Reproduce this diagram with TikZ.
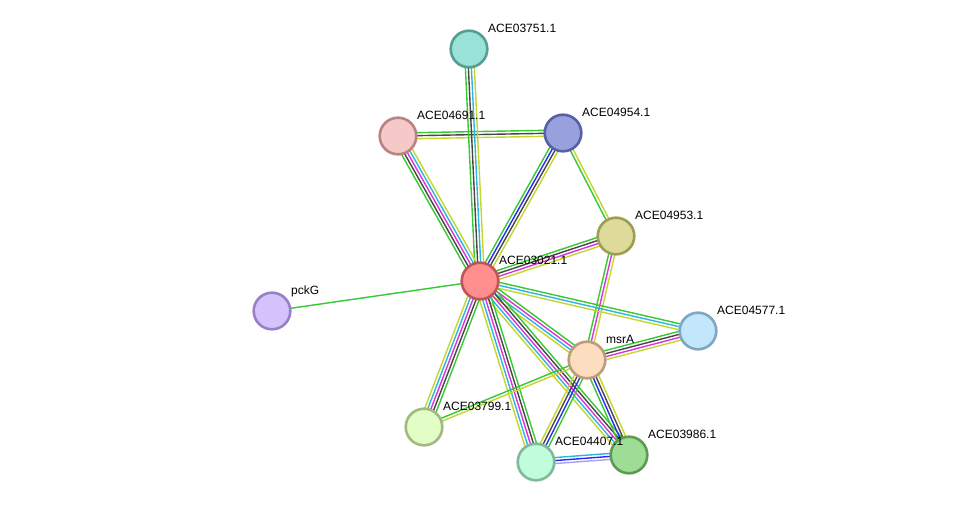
\documentclass[tikz,border=0pt]{standalone}
\usepackage{fontspec}
\setmainfont{Liberation Sans}
\usetikzlibrary{calc}
\pgfdeclarelayer{back}
\pgfdeclarelayer{bg}
\pgfsetlayers{back,bg,main}
\definecolor{egreen}{RGB}{55,200,50}
\definecolor{eblack}{RGB}{70,70,70}
\definecolor{emag}{RGB}{220,50,220}
\definecolor{ecyan}{RGB}{45,180,225}
\definecolor{eyel}{RGB}{195,215,45}
\definecolor{eblue}{RGB}{40,40,250}
\definecolor{elav}{RGB}{165,160,250}
\definecolor{f03751}{RGB}{152,226,215}\definecolor{d03751}{RGB}{86,158,148}
\definecolor{f04691}{RGB}{246,200,200}\definecolor{d04691}{RGB}{184,131,131}
\definecolor{f04954}{RGB}{152,161,222}\definecolor{d04954}{RGB}{85,97,163}
\definecolor{f04953}{RGB}{222,219,154}\definecolor{d04953}{RGB}{158,157,85}
\definecolor{f03021}{RGB}{255,143,143}\definecolor{d03021}{RGB}{192,85,85}
\definecolor{fpckG}{RGB}{212,196,251}\definecolor{dpckG}{RGB}{152,128,200}
\definecolor{f04577}{RGB}{194,230,251}\definecolor{d04577}{RGB}{127,168,192}
\definecolor{fmsrA}{RGB}{252,221,191}\definecolor{dmsrA}{RGB}{188,156,124}
\definecolor{f03799}{RGB}{227,253,198}\definecolor{d03799}{RGB}{162,186,128}
\definecolor{f04407}{RGB}{193,252,220}\definecolor{d04407}{RGB}{127,186,154}
\definecolor{f03986}{RGB}{157,221,149}\definecolor{d03986}{RGB}{91,155,83}
\tikzset{
  prot/.style={circle, minimum size=36.6pt, inner sep=0pt, line width=2.6pt},
  lbl/.style={anchor=base west, inner sep=0pt, font=\fontsize{12}{14}\selectfont},
}
\newcommand\sedge[3]{%
  \foreach \cc [count=\ii] in {#3} {\xdef\nnum{\ii}}%
  \foreach \cc [count=\ii] in {#3} {%
    \pgfmathsetmacro\off{((\nnum+1)/2-\ii)*3}%
    \draw[line width=1.4pt, color=\cc] ($(#1)!\off pt!90:(#2)$) -- ($(#2)!\off pt!-90:(#1)$);
  }%
}
\newcommand\prot[4]{% name, x, y, colour key
  \node[prot, fill=f#4, draw=d#4] (#1) at (#2,#3) {};
}
\begin{document}
\begin{tikzpicture}[x=1pt,y=-1pt]
\begin{pgfonlayer}{back}
\fill[white] (0,0) rectangle (976,508);
\end{pgfonlayer}
\useasboundingbox (0,0) rectangle (976,508);
\prot{a03751}{469}{49}{03751}
\prot{a04691}{398}{136}{04691}
\prot{a04954}{563}{133}{04954}
\prot{a04953}{616}{236}{04953}
\prot{a03021}{480}{281}{03021}
\prot{pckG}{272}{311}{pckG}
\prot{a04577}{698}{331}{04577}
\prot{msrA}{587}{360}{msrA}
\prot{a03799}{424}{427}{03799}
\prot{a04407}{536}{462}{04407}
\prot{a03986}{629}{455}{03986}
\begin{pgfonlayer}{bg}
\sedge{a04691}{a04954}{egreen,eblack,eyel}
\sedge{a03021}{a03751}{egreen,eblack,ecyan,eyel}
\sedge{a03021}{a04691}{egreen,eblack,emag,ecyan,eyel}
\sedge{a03021}{a04954}{egreen,eblue,eblack,eyel}
\sedge{a04953}{a04954}{egreen,eyel}
\sedge{a03021}{a04953}{egreen,eblack,emag,eyel}
\sedge{msrA}{a04953}{egreen,emag,eyel}
\sedge{pckG}{a03021}{egreen}
\sedge{a03021}{a04577}{egreen,ecyan,eyel}
\sedge{msrA}{a04577}{egreen,eblack,emag,eyel}
\sedge{a03021}{msrA}{egreen,emag,ecyan,eyel}
\sedge{a03021}{a03986}{egreen,eblack,emag,ecyan,eyel}
\sedge{a03021}{a04407}{egreen,eblack,emag,ecyan,eyel}
\sedge{a03021}{a03799}{egreen,eblack,emag,ecyan,eyel}
\sedge{a03799}{msrA}{egreen,eyel}
\sedge{msrA}{a04407}{egreen,eblue,eblack,eyel}
\sedge{a03986}{msrA}{egreen,eblue,eblack,eyel}
\sedge{a04407}{a03986}{ecyan,eblue,elav}
\end{pgfonlayer}
\node[lbl] (t03751) at ($(a03751)+(19,-16.7)$) {ACE03751.1};
\node[lbl] (t04691) at ($(a04691)+(19,-16.7)$) {ACE04691.1};
\node[lbl] (t04954) at ($(a04954)+(19,-16.7)$) {ACE04954.1};
\node[lbl] (t04953) at ($(a04953)+(19,-16.7)$) {ACE04953.1};
\node[lbl] (t03021) at ($(a03021)+(19,-16.7)$) {ACE03021.1};
\node[lbl] (tpckG) at ($(pckG)+(19,-16.7)$) {pckG};
\node[lbl] (t04577) at ($(a04577)+(19,-16.7)$) {ACE04577.1};
\node[lbl] (tmsrA) at ($(msrA)+(19,-16.7)$) {msrA};
\node[lbl] (t03799) at ($(a03799)+(19,-16.7)$) {ACE03799.1};
\node[lbl] (t04407) at ($(a04407)+(19,-16.7)$) {ACE04407.1};
\node[lbl] (t03986) at ($(a03986)+(19,-16.7)$) {ACE03986.1};
\end{tikzpicture}
\end{document}
